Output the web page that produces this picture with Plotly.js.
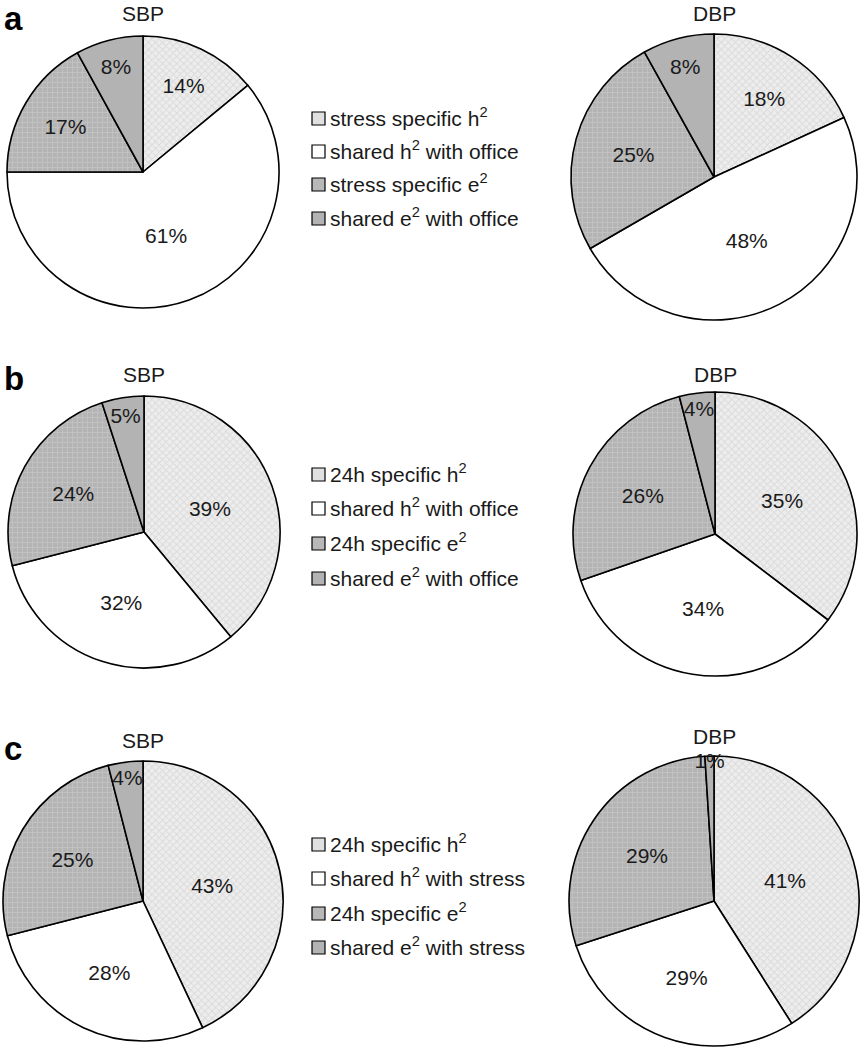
<!DOCTYPE html>
<html>
<head>
<meta charset="utf-8">
<script src="https://cdn.plot.ly/plotly-3.0.1.min.js"></script>
<style>html,body{margin:0;padding:0;background:#fff;}#chart{width:863px;height:1050px;}</style>
</head>
<body>
<div id="chart"></div>
<script>
// ---- data ----
const panelLetters = ['a', 'b', 'c'];
const pieTitles = ['SBP', 'DBP'];
const labelsA = ['stress specific h<sup>2</sup>', 'shared h<sup>2</sup> with office', 'stress specific e<sup>2</sup>', 'shared e<sup>2</sup> with office'];
const labelsB = ['24h specific h<sup>2</sup>', 'shared h<sup>2</sup> with office', '24h specific e<sup>2</sup>', 'shared e<sup>2</sup> with office'];
const labelsC = ['24h specific h<sup>2</sup>', 'shared h<sup>2</sup> with stress', '24h specific e<sup>2</sup>', 'shared e<sup>2</sup> with stress'];
const sbpA = [14, 61, 17, 8];
const dbpA = [18, 48, 25, 8];
const sbpB = [39, 32, 24, 5];
const dbpB = [35, 34, 26, 4];
const sbpC = [43, 28, 25, 4];
const dbpC = [41, 29, 29, 1];

// ---- styling ----
const W = 863, H = 1050;
const sliceColors = ['#ededed', '#ffffff', '#b4b4b4', '#b3b3b3'];
const legendColors = ['#e0e0e0', '#ffffff', '#b8b8b8', '#b3b3b3'];
const patternShapes = ['x', '', '+', ''];
const patternFg = ['#c4c4c4', '#ffffff', '#cfcfcf', '#b3b3b3'];
const FONT = 'Liberation Sans, Arial, Helvetica, sans-serif';

// pie geometry (pixel centre and radius)
const geom = [
  [{cx: 143, cy: 172, r: 136}, {cx: 714, cy: 177, r: 143}],
  [{cx: 144, cy: 532, r: 136}, {cx: 715, cy: 534, r: 142}],
  [{cx: 143, cy: 901, r: 140}, {cx: 714, cy: 901, r: 145}]
];
const titleY = [[14, 13], [374, 374], [740, 736]];
const letterY = [19, 378, 748];
const legendItemsY = [[117, 150, 183, 217], [473, 507, 542, 577], [843, 877, 912, 946]];

const rows = [
  {labels: labelsA, values: [sbpA, dbpA]},
  {labels: labelsB, values: [sbpB, dbpB]},
  {labels: labelsC, values: [sbpC, dbpC]}
];

const traces = [];
const annotations = [];
const shapes = [];

rows.forEach((row, ri) => {
  row.values.forEach((vals, ci) => {
    const g = geom[ri][ci];
    traces.push({
      type: 'pie',
      labels: row.labels,
      values: vals,
      sort: false,
      direction: 'clockwise',
      rotation: 0,
      texttemplate: '%{value}%',
      textposition: 'inside',
      insidetextorientation: 'horizontal',
      textfont: {family: FONT, size: 21, color: '#1a1a1a'},
      hoverinfo: 'label+value',
      showlegend: false,
      marker: {
        colors: sliceColors,
        line: {color: '#000000', width: 1.6},
        pattern: {shape: patternShapes, fgcolor: patternFg, fillmode: 'overlay', size: 5, solidity: 0.35}
      },
      domain: {
        x: [(g.cx - g.r) / W, (g.cx + g.r) / W],
        y: [1 - (g.cy + g.r) / H, 1 - (g.cy - g.r) / H]
      }
    });
    annotations.push({
      text: pieTitles[ci], xref: 'paper', yref: 'paper',
      x: g.cx / W, y: 1 - titleY[ri][ci] / H, xanchor: 'center', yanchor: 'middle',
      showarrow: false, font: {family: FONT, size: 21, color: '#1a1a1a'}
    });
  });
  annotations.push({
    text: '<b>' + panelLetters[ri] + '</b>', xref: 'paper', yref: 'paper',
    x: 3 / W, y: 1 - letterY[ri] / H, xanchor: 'left', yanchor: 'middle',
    showarrow: false, borderpad: 0, font: {family: FONT, size: 33, color: '#000000'}
  });
  row.labels.forEach((lab, li) => {
    const yc = legendItemsY[ri][li];
    shapes.push({
      type: 'rect', xref: 'paper', yref: 'paper',
      x0: 312 / W, x1: 325 / W, y0: 1 - (yc + 8) / H, y1: 1 - (yc - 5) / H,
      fillcolor: legendColors[li], line: {color: '#000000', width: 1.2}
    });
    annotations.push({
      text: lab, xref: 'paper', yref: 'paper',
      x: 328 / W, y: 1 - yc / H, xanchor: 'left', yanchor: 'middle',
      showarrow: false, font: {family: FONT, size: 21, color: '#1a1a1a'}
    });
  });
});

const layout = {
  width: W, height: H,
  margin: {l: 0, r: 0, t: 0, b: 0},
  paper_bgcolor: '#ffffff',
  showlegend: false,
  uniformtext: {minsize: 21, mode: 'show'},
  annotations: annotations,
  shapes: shapes
};

Plotly.newPlot('chart', traces, layout, {displayModeBar: false, staticPlot: true});
</script>
</body>
</html>
